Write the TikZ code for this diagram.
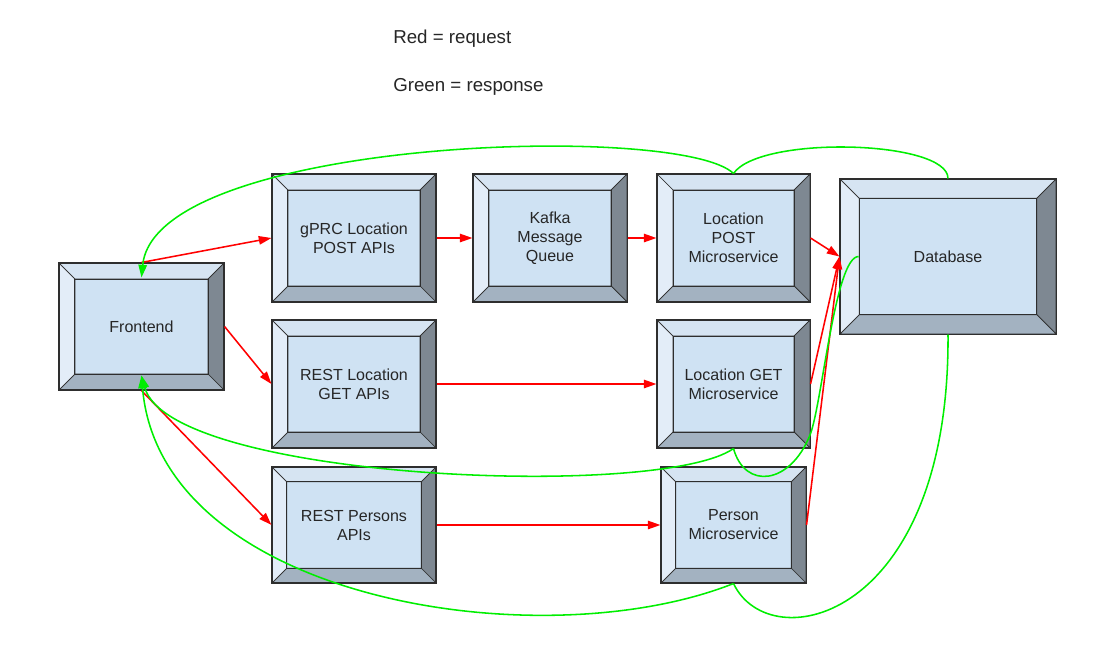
\documentclass[tikz,border=0pt]{standalone}
\usepackage{fontspec}
\setmainfont{Liberation Sans}
\usetikzlibrary{arrows.meta}
\definecolor{BoxFace}{HTML}{CFE2F3}
\definecolor{BevTop}{HTML}{D6E4F2}
\definecolor{BevLeft}{HTML}{E3EDF8}
\definecolor{BevRight}{HTML}{7E8892}
\definecolor{BevBottom}{HTML}{A3B2C1}
\definecolor{BoxLine}{HTML}{2E2E2E}
\definecolor{ReqRed}{HTML}{FF0000}
\definecolor{RespGreen}{HTML}{00EE00}
\tikzset{bevel width/.store in=\bvw, bevel width=0.4cm}

\begin{document}
\begin{tikzpicture}[x=0.025cm, y=-0.025cm,
  box/.style={
    draw=BoxLine, line width=0.75pt, fill=BoxFace, inner sep=0pt,
    align=center, text=black!85, font=\fontsize{11.4}{13.5}\selectfont,
    path picture={
      \path (path picture bounding box.north west) coordinate (bnw)
            (path picture bounding box.north east) coordinate (bne)
            (path picture bounding box.south west) coordinate (bsw)
            (path picture bounding box.south east) coordinate (bse);
      \path ([shift={(\bvw,-\bvw)}]bnw) coordinate (inw)
            ([shift={(-\bvw,-\bvw)}]bne) coordinate (ine)
            ([shift={(\bvw,\bvw)}]bsw) coordinate (isw)
            ([shift={(-\bvw,\bvw)}]bse) coordinate (ise);
      \filldraw[fill=BevTop, draw=BoxLine, line width=0.5pt]
        (bnw) -- (bne) -- (ine) -- (inw) -- cycle;
      \filldraw[fill=BevLeft, draw=BoxLine, line width=0.5pt]
        (bnw) -- (inw) -- (isw) -- (bsw) -- cycle;
      \filldraw[fill=BevRight, draw=BoxLine, line width=0.5pt]
        (bne) -- (bse) -- (ise) -- (ine) -- cycle;
      \filldraw[fill=BevBottom, draw=BoxLine, line width=0.5pt]
        (bsw) -- (isw) -- (ise) -- (bse) -- cycle;
      \draw[BoxLine, line width=0.7pt] (inw) rectangle (ise);
    }
  },
  req/.style={-{Triangle[length=9pt,width=6pt]}, line width=1.1pt, color=ReqRed},
  resp/.style={line width=1.1pt, color=RespGreen},
  respend/.style={resp, -{Triangle[length=9pt,width=6pt]}},
  legend/.style={font=\fontsize{13.3}{16}\selectfont, text=black!85,
    anchor=base west, inner sep=0pt}
]
\useasboundingbox (0,0) rectangle (1098,653);

% Legend
\node[legend] (legreq) at (393,43) {Red = request};
\node[legend] (legresp) at (393,91) {Green = response};

% Frontend and API layer
\node[box, minimum width=4.125cm, minimum height=3.175cm] (front) at (141.5,326.5) {Frontend};
\node[box, minimum width=4.1cm, minimum height=3.2cm] (grpc) at (354,238) {gPRC Location\\POST APIs};
\node[box, minimum width=4.1cm, minimum height=3.2cm] (rget) at (354,384) {REST Location\\GET APIs};
\node[box, bevel width=0.37cm, minimum width=4.1cm, minimum height=2.9cm] (rpers) at (354,525) {REST Persons\\APIs};

% Queue and services
\node[box, minimum width=3.85cm, minimum height=3.2cm] (kafka) at (550,238) {Kafka\\Message\\Queue};
\node[box, minimum width=3.825cm, minimum height=3.2cm] (lpost) at (733.5,238) {Location\\POST\\Microservice};
\node[box, minimum width=3.825cm, minimum height=3.2cm] (lget) at (733.5,384) {Location GET\\Microservice};
\node[box, bevel width=0.37cm, minimum width=3.625cm, minimum height=2.9cm] (pers) at (733.5,525) {Person\\Microservice};

% Database
\node[box, bevel width=0.48cm, minimum width=5.4cm, minimum height=3.875cm] (db) at (948,256.5) {Database};

% Inner face points where responses land
\coordinate (fronttop) at ([yshift=-0.375cm]front.north);
\coordinate (frontbot) at ([yshift=0.375cm]front.south);
\coordinate (dbin) at ([xshift=0.48cm]db.west);

% Requests
\draw[req] (front.north) -- (grpc.west);
\draw[req] (grpc.east) -- (kafka.west);
\draw[req] (kafka.east) -- (lpost.west);
\draw[req] (lpost.east) -- (db.west);
\draw[req] (front.east) -- (rget.west);
\draw[req] (front.south) -- (rpers.west);
\draw[req] (rget.east) -- (lget.west);
\draw[req] (rpers.east) -- (pers.west);
\draw[req] (lget.east) -- (db.west);
\draw[req] (pers.east) -- (db.west);

% Responses
\draw[resp] (db.north) .. controls (948,140) and (760,135) .. (lpost.north);
\draw[respend] (lpost.north) .. controls (680,122) and (155,138) .. (fronttop);
\draw[resp] (lget.south) .. controls (745,490) and (790,485) .. (810,435)
  .. controls (822,405) and (835,256) .. (dbin);
\draw[respend] (lget.south) .. controls (660,500) and (170,480) .. (frontbot);
\draw[resp] (pers.south) .. controls (770,660) and (950,620) .. (db.south);
\draw[respend] (pers.south) .. controls (540,660) and (160,600) .. (frontbot);

\end{tikzpicture}
\end{document}
